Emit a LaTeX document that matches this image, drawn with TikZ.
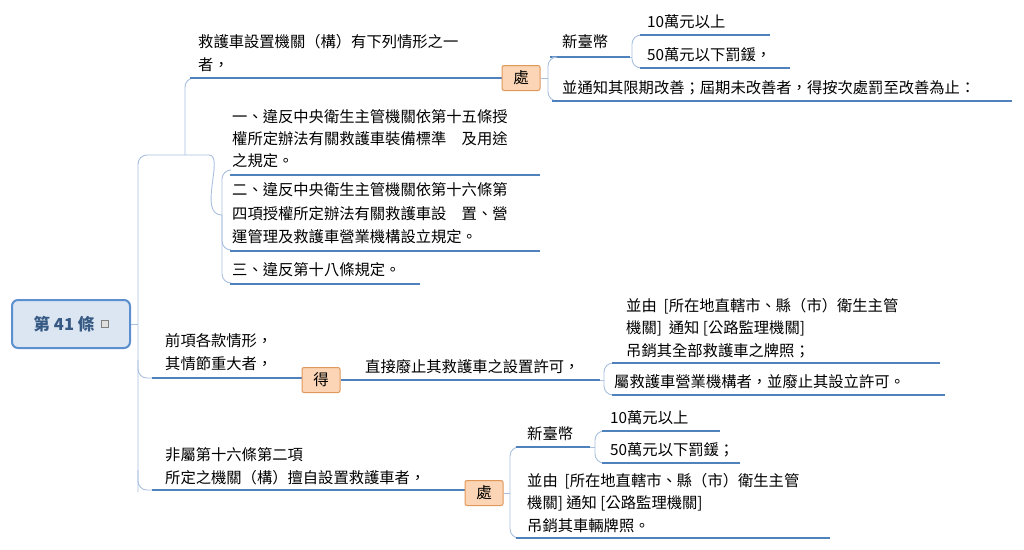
\documentclass[tikz,border=0pt]{standalone}
\usepackage{fontspec}
\setmainfont{Noto Sans CJK TC}
\begin{document}
\begin{tikzpicture}[x=1pt,y=-1pt]
\definecolor{lb}{HTML}{4F81BD}
\definecolor{lt}{HTML}{A9C0E0}
\definecolor{rootf}{HTML}{DCE6F2}
\definecolor{rootd}{HTML}{5B8FD0}
\definecolor{orf}{HTML}{FBD5B5}
\definecolor{ord}{HTML}{E0985A}
\tikzset{
 ul/.style={draw=lb,line width=1.2pt},
 br/.style={draw=lt,line width=0.9pt,rounded corners=9pt},
 tx/.style={anchor=west,inner sep=0pt,align=left,font=\fontsize{15.3}{22.5}\selectfont},
 act/.style={draw=ord,fill=orf,line width=1pt,rounded corners=2pt,minimum width=38pt,minimum height=25pt,inner sep=0pt,font=\fontsize{15.5}{18}\selectfont},
}
\useasboundingbox[fill=white] (0,0) rectangle (1024,549);
% root
\node[draw=rootd,fill=rootf,line width=2pt,rounded corners=6pt,minimum width=118pt,minimum height=48pt] (root) at (71,324) {};
\node[font=\fontsize{16.5}{18}\selectfont\bfseries,text=lb!70!black] (roott) at (64,324) {第 41 條};
\node[draw=gray,fill=gray!25,minimum size=7pt,inner sep=0pt] (ricon) at (105,324) {};
% trunk
\coordinate (tr) at (138,324);
\draw[br] (root.east) -- (tr);
\draw[br] (138,492) -- (138,155) -- (185,155);
% branch 1
\node[tx] (b1) at (198,53) {救護車設置機關（構）有下列情形之一\\者，};
\draw[br] (185,155) -- (185,78) -- (190,78);
\draw[ul] (190,78) -- (502,78);
\node[act] (c1) at (521,78) {處};
\node[tx] (xt1) at (562,42) {新臺幣};
\draw[ul] (550,57) -- (630,57);
\draw[br] (c1.east) -- (548,78);
\draw[br] (548,78) |- (552,57);
\draw[br] (548,78) |- (552,101);
\node[tx] (a1) at (647,22) {10萬元以上};
\node[tx] (a2) at (647,55) {50萬元以下罰鍰，};
\draw[br] (630,57) -- (632,57);
\draw[br] (632,57) |- (640,35);
\draw[br] (632,57) |- (640,68);
\draw[ul] (640,35) -- (770,35);
\draw[ul] (640,68) -- (790,68);
\node[tx] (n1) at (562,88) {並通知其限期改善；屆期未改善者，得按次處罰至改善為止：};
\draw[ul] (552,101) -- (1012,101);
% children of branch 1
\draw[br] (185,155) -- (200,155) to[out=0,in=180] (222,215);
\draw[br] (222,215) |- (230,170);
\draw[br] (222,215) |- (230,250);
\draw[br] (222,215) |- (230,283);
\node[tx] (k1) at (232,117) {一、違反中央衛生主管機關依第十五條授};
\node[tx] (k1a) at (232,139) {權所定辦法有關救護車裝備標準\quad 及用途};
\node[tx] (k1b) at (232,161) {之規定。};
\draw[ul] (230,175) -- (540,175);
\node[tx] (k2) at (232,190) {二、違反中央衛生主管機關依第十六條第};
\node[tx] (k2b) at (232,214) {四項授權所定辦法有關救護車設\quad 置、營};
\node[tx] (k2c) at (232,237) {運管理及救護車營業機構設立規定。};
\draw[ul] (230,251) -- (540,251);
\node[tx] (k3) at (232,270) {三、違反第十八條規定。};
\draw[ul] (230,284) -- (420,284);
% branch 2
\node[tx] (b2) at (165,352) {前項各款情形，\\其情節重大者，};
\draw[br] (138,360) |- (152,378);
\draw[ul] (152,378) -- (302,378);
\node[act] (c2) at (321,380) {得};
\draw[ul] (c2.east) -- (600,380);
\node[tx] (d1) at (365,367) {直接廢止其救護車之設置許可，};
\draw[br] (600,380) -- (604,380);
\draw[br] (604,380) |- (612,363);
\draw[br] (604,380) |- (612,395);
\node[tx] (e1) at (626,328) {並由\ \ [所在地直轄市、縣（市）衛生主管\\機關]\ \ 通知 [公路監理機關]\\吊銷其全部救護車之牌照；};
\draw[ul] (612,363) -- (940,363);
\node[tx] (e2) at (614,382) {屬救護車營業機構者，並廢止其設立許可。};
\draw[ul] (612,395) -- (945,395);
% branch 3
\node[tx] (b3) at (165,466) {非屬第十六條第二項\\所定之機關（構）擅自設置救護車者，};
\draw[br] (138,470) |- (152,490);
\draw[ul] (152,490) -- (465,490);
\node[act] (c3) at (484,493) {處};
\draw[br] (c3.east) -- (510,493);
\draw[br] (510,493) |- (516,447);
\draw[br] (510,493) |- (516,538);
\node[tx] (xt3) at (527,434) {新臺幣};
\draw[ul] (516,447) -- (590,447);
\draw[br] (590,447) -- (595,447);
\draw[br] (595,447) |- (602,431);
\draw[br] (595,447) |- (602,463);
\node[tx] (f1) at (610,418) {10萬元以上};
\draw[ul] (602,431) -- (720,431);
\node[tx] (f2) at (610,450) {50萬元以下罰鍰；};
\draw[ul] (602,463) -- (740,463);
\node[tx] (g1) at (527,503) {並由\ \ [所在地直轄市、縣（市）衛生主管\\機關] 通知 [公路監理機關]\\吊銷其車輛牌照。};
\draw[ul] (516,538) -- (830,538);
\end{tikzpicture}
\end{document}
